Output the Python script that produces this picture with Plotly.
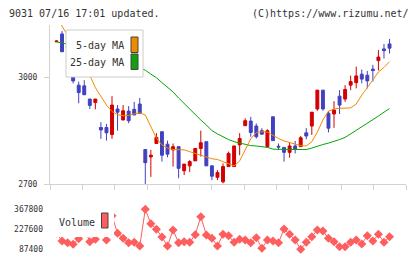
import plotly.graph_objects as go

W, H = 420, 259

# ---------------- data ----------------
idx = list(range(61))
date_pos = [10, 20, 30, 40, 50, 60]
date_txt = ["5/7", "5/21", "6/4", "6/18", "7/2", "7/16"]

opens = [3100, 3122, 3088, 3072, 2978, 2976, 2939, 2929, 2859, 2859,
         2839, 2911, 2880, 2905, 2910, 2925, 2797, 2776, 2814, 2847,
         2812, 2796, 2805, 2737, 2751, 2765, 2800, 2819, 2751, 2719,
         2706, 2749, 2749, 2810, 2864, 2877, 2863, 2850, 2805, 2889,
         2806, 2803, 2789, 2807, 2805, 2844, 2863, 2911, 2964, 2899,
         2897, 2947, 2939, 2978, 2985, 3009, 3006, 3023, 3047, 3080, 3094]
highs = [3104, 3130, 3096, 3072, 2988, 2992, 2939, 2939, 2874, 2869,
         2947, 2922, 2922, 2919, 2931, 2942, 2797, 2796, 2843, 2847,
         2822, 2814, 2805, 2756, 2767, 2800, 2850, 2819, 2753, 2739,
         2758, 2791, 2807, 2843, 2885, 2889, 2870, 2857, 2854, 2889,
         2814, 2803, 2816, 2821, 2835, 2857, 2902, 2964, 2964, 2905,
         2933, 2964, 2978, 3005, 3030, 3022, 3018, 3035, 3077, 3094, 3108]
lows = [3099, 3072, 3075, 2983, 2927, 2951, 2911, 2910, 2827, 2822,
        2827, 2850, 2880, 2871, 2894, 2899, 2700, 2720, 2814, 2763,
        2775, 2749, 2716, 2725, 2734, 2765, 2777, 2751, 2711, 2711,
        2702, 2749, 2749, 2781, 2864, 2833, 2828, 2840, 2802, 2822,
        2796, 2763, 2774, 2786, 2805, 2826, 2838, 2906, 2906, 2845,
        2858, 2897, 2931, 2964, 2969, 2983, 2969, 2988, 3019, 3053, 3067]
closes = [3102, 3072, 3084, 2990, 2957, 2951, 2921, 2939, 2852, 2844,
          2922, 2902, 2906, 2878, 2894, 2899, 2760, 2781, 2831, 2781,
          2784, 2805, 2744, 2756, 2763, 2800, 2816, 2751, 2722, 2732,
          2749, 2786, 2807, 2828, 2878, 2845, 2833, 2840, 2850, 2822,
          2804, 2789, 2807, 2798, 2830, 2835, 2902, 2964, 2911, 2857,
          2908, 2922, 2966, 2988, 3004, 2995, 2990, 3019, 3057, 3075, 3082]

ma5 = [3165, 3144, 3118, 3085, 3055, 3030, 3006, 2971, 2947, 2922,
       2904, 2895, 2892, 2893, 2897, 2900, 2894, 2860, 2829, 2810,
       2801, 2797, 2796, 2796, 2791, 2786, 2781, 2776, 2771, 2769,
       2763, 2759, 2751, 2765, 2796, 2827, 2845, 2847, 2846, 2836,
       2828, 2821, 2816, 2811, 2808, 2807, 2819, 2846, 2880, 2905,
       2911, 2913, 2913, 2914, 2925, 2950, 2971, 2992, 3015, 3028, 3044]
ma25 = [3100, 3097, 3094, 3090, 3086, 3082, 3077, 3072, 3067, 3061,
        3056, 3050, 3044, 3038, 3032, 3027, 3020, 3009, 2999, 2985,
        2973, 2959, 2942, 2926, 2911, 2894, 2880, 2866, 2850, 2841,
        2832, 2825, 2819, 2815, 2811, 2808, 2807, 2805, 2803, 2798,
        2797, 2797, 2797, 2797, 2797, 2797, 2801, 2807, 2811, 2815,
        2819, 2825, 2831, 2841, 2849, 2859, 2869, 2881, 2891, 2902, 2912]

volume = [200000, 143480, 131600, 120300, 160000, 230000, 138600, 155400, 250000, 150500,
          320000, 197400, 162400, 131600, 134400, 108400, 365700, 264800, 225500, 171500,
          108400, 220600, 131600, 138600, 134400, 187600, 313800, 185500, 162400, 108400,
          190400, 180600, 134400, 155400, 150500, 131600, 166600, 92300, 150500, 143500,
          131600, 227600, 190400, 150500, 85300, 134400, 173600, 220600, 213600, 162400,
          138600, 103500, 103500, 134400, 150500, 122400, 180600, 143500, 190400, 134400, 173600]

price_ticks = [2700, 3000]
vol_ticks = [87400, 227600, 367800]
vol_tick_txt = ["87400", "227600", "367800"]

# ---------------- styling / layout helpers ----------------
RED = "#d20000"
BLUE = "#4141c0"
ORANGE = "#f08a00"
GREEN = "#00a800"
VOLC = "#ff5e5e"
AX = "#d2d2d2"
TXT = "#333333"
MONO = "DejaVu Sans Mono"


def px(x):
    return x / W


def py(y):
    return 1 - y / H


X_RANGE = [-1.171, 62.97]
div_vals = [X_RANGE[0] + k * (X_RANGE[1] - X_RANGE[0]) / 11 for k in range(12)]
dom_x = [px(50), px(406)]
dom_p = [py(184), py(25)]
dom_v = [py(254), py(204)]
P_RANGE = [2700, 2700 + 159 * 2.8125]

fig = go.Figure()
fig.add_trace(go.Candlestick(
    x=idx, open=opens, high=highs, low=lows, close=closes,
    increasing=dict(line=dict(color=RED, width=1), fillcolor=RED),
    decreasing=dict(line=dict(color=BLUE, width=1), fillcolor=BLUE),
    whiskerwidth=0, showlegend=False, hoverinfo="skip",
    xaxis="x", yaxis="y"))
fig.add_trace(go.Scatter(x=idx, y=ma25, mode="lines", line=dict(color=GREEN, width=1),
                         showlegend=False, xaxis="x", yaxis="y"))
fig.add_trace(go.Scatter(x=idx, y=ma5, mode="lines", line=dict(color=ORANGE, width=1),
                         showlegend=False, xaxis="x", yaxis="y"))
fig.add_trace(go.Scatter(x=idx, y=volume, mode="lines+markers",
                         line=dict(color=VOLC, width=1),
                         marker=dict(symbol="diamond", size=7, color=VOLC),
                         showlegend=False, xaxis="x4", yaxis="y2"))

tickfont = dict(family=MONO, size=8, color=TXT)
common = dict(showgrid=False, zeroline=False, automargin=False)

layout = dict(
    width=W, height=H, margin=dict(l=0, r=0, t=0, b=0, autoexpand=False),
    paper_bgcolor="white", plot_bgcolor="white",
    boxgap=0.25,
    xaxis=dict(domain=dom_x, range=X_RANGE, anchor="y",
               showline=True, linecolor=AX, linewidth=1,
               tickmode="array", tickvals=div_vals, ticks="outside", ticklen=5,
               tickcolor=AX, showticklabels=False, rangeslider=dict(visible=False), **common),
    xaxis2=dict(domain=dom_x, range=X_RANGE, anchor="y", overlaying="x",
                tickmode="array", tickvals=div_vals, ticks="inside",
                ticklen=5, tickcolor=AX, showticklabels=False, **common),
    xaxis3=dict(domain=dom_x, range=X_RANGE, anchor="y", overlaying="x",
                tickmode="array", tickvals=date_pos, ticktext=date_txt,
                ticks="", tickfont=tickfont, ticklabelstandoff=6, **common),
    xaxis4=dict(domain=dom_x, range=X_RANGE, anchor="y2",
                showline=False, showticklabels=False, ticks="", **common),
    yaxis=dict(domain=dom_p, range=P_RANGE, anchor="x",
               showline=True, linecolor=AX, linewidth=1,
               tickmode="array", tickvals=price_ticks, ticks="outside", ticklen=5,
               tickcolor=AX, tickfont=tickfont, ticklabelstandoff=5, **common),
    yaxis3=dict(domain=dom_p, range=P_RANGE, anchor="x", overlaying="y",
                tickmode="array", tickvals=price_ticks,
                ticks="inside", ticklen=4, tickcolor=AX, showticklabels=False, **common),
    yaxis2=dict(domain=dom_v, range=[87400 - 5 * 7010, 367800 + 5 * 7010], anchor="x4",
                showline=False, ticks="",
                tickmode="array", tickvals=vol_ticks, ticktext=vol_tick_txt,
                tickfont=tickfont, ticklabelstandoff=6, **common),
)

shapes = [
    # price legend box
    dict(type="rect", xref="paper", yref="paper", x0=px(66), x1=px(143), y0=py(77), y1=py(30),
         fillcolor="white", line=dict(color="#cccccc", width=1), layer="above"),
    dict(type="rect", xref="paper", yref="paper", x0=px(131), x1=px(138), y0=py(52.5), y1=py(37),
         fillcolor=ORANGE, line=dict(color="#444444", width=1), layer="above"),
    dict(type="rect", xref="paper", yref="paper", x0=px(131), x1=px(138), y0=py(69.5), y1=py(54),
         fillcolor="#10a010", line=dict(color="#444444", width=1), layer="above"),
    # volume legend box
    dict(type="rect", xref="paper", yref="paper", x0=px(52), x1=px(114), y0=py(237), y1=py(206),
         fillcolor="white", line=dict(width=0), layer="above"),
    dict(type="rect", xref="paper", yref="paper", x0=px(101.5), x1=px(108), y0=py(228), y1=py(213),
         fillcolor=VOLC, line=dict(color="#444444", width=1), layer="above"),
]

ann_font = dict(family=MONO, size=10, color=TXT)
annotations = [
    dict(text="9031 07/16 17:01 updated.", xref="paper", yref="paper", x=px(7), y=py(13),
         xanchor="left", yanchor="middle", showarrow=False, font=ann_font),
    dict(text="(C)https://www.rizumu.net/", xref="paper", yref="paper", x=px(411), y=py(13),
         xanchor="right", yanchor="middle", showarrow=False, font=ann_font),
    dict(text="5-day MA", xref="paper", yref="paper", x=px(126), y=py(46),
         xanchor="right", yanchor="middle", showarrow=False, font=ann_font),
    dict(text="25-day MA", xref="paper", yref="paper", x=px(126), y=py(63),
         xanchor="right", yanchor="middle", showarrow=False, font=ann_font),
    dict(text="Volume", xref="paper", yref="paper", x=px(57), y=py(222),
         xanchor="left", yanchor="middle", showarrow=False, font=ann_font),
]
layout["shapes"] = shapes
layout["annotations"] = annotations
fig.update_layout(**layout)
fig.write_html("out.html")
